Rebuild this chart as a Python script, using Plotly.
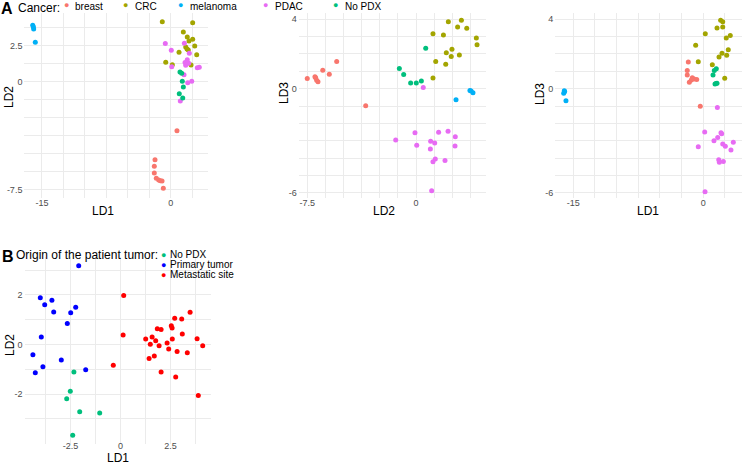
import plotly.graph_objects as go

# ---------------- Panel A data (LD1/LD2/LD3 by cancer type) ----------------
cancers = ["breast", "CRC", "melanoma", "PDAC", "No PDX"]
cancer_colors = ["#F8766D", "#A3A500", "#00B0F6", "#E76BF3", "#00BF7D"]

# A1: LD1 (x) vs LD2 (y)
a1_breast_x = [-1.83, -1.91, -1.91, -1.68, -1.40, -1.21, -1.01, -0.86, 0.73]
a1_breast_y = [-5.43, -5.89, -6.35, -6.72, -6.84, -6.89, -6.91, -7.42, -3.42]
a1_crc_x = [-0.98, 2.56, 1.47, 1.93, 2.56, 2.13, 2.80, 1.75, 2.05, 0.97, 3.03, -0.58, 0.19, 2.37, 1.90]
a1_crc_y = [4.15, 4.08, 3.44, 3.09, 2.93, 2.81, 2.47, 2.40, 2.19, 2.03, 1.86, 1.33, 1.17, 1.15, 2.26]
a1_mel_x = [-16.08, -16.00, -15.97, -15.78]
a1_mel_y = [3.90, 3.78, 3.65, 2.72]
a1_pdac_x = [-0.63, 1.59, 0.07, 2.17, 1.93, 1.67, 2.10, 1.75, 0.12, 1.55, 3.10, 3.33, 2.45, 1.98, 1.12]
a1_pdac_y = [2.63, 2.65, 2.17, 1.96, 1.51, 1.31, 1.26, 1.13, 1.03, 0.47, 0.96, 0.99, 0.01, -0.08, -1.35]
a1_nopdx_x = [1.08, 1.28, 1.35, 1.47, 1.00, 1.40]
a1_nopdx_y = [0.66, 0.57, 0.01, -0.38, -0.85, -1.15]

# A2: LD2 (x) vs LD3 (y)
a2_breast_x = [-7.50, -6.97, -6.92, -6.85, -6.76, -6.43, -5.98, -5.47, -3.47]
a2_breast_y = [0.58, 0.69, 0.62, 0.48, 0.40, 1.06, 0.83, 1.56, -0.98]
a2_crc_x = [2.23, 3.13, 2.87, 3.50, 1.17, 1.89, 4.16, 4.21, 2.48, 2.09, 2.99, 2.43, 1.36, 2.05, 1.17]
a2_crc_y = [3.85, 3.93, 3.54, 3.47, 3.16, 3.08, 2.91, 2.52, 2.27, 2.06, 1.94, 1.85, 1.56, 1.40, 0.61]
a2_mel_x = [3.72, 3.80, 3.93, 2.76]
a2_mel_y = [-0.10, -0.13, -0.23, -0.64]
a2_pdac_x = [-0.07, 1.56, 2.21, 2.71, 1.01, 1.29, 0.05, 2.69, 0.99, 1.33, 1.17, 2.00, 1.08, -1.40, 0.50]
a2_pdac_y = [-2.54, -2.51, -2.45, -2.76, -3.03, -3.12, -3.26, -3.30, -3.47, -4.05, -4.20, -4.14, -5.88, -2.95, 0.06]
a2_nopdx_x = [0.67, -1.15, -0.85, -0.37, 0.02, 0.37]
a2_nopdx_y = [2.33, 1.16, 0.81, 0.32, 0.32, 0.44]

# A3: LD1 (x) vs LD3 (y)
a3_breast_x = [-1.73, -1.85, -1.85, -1.27, -1.07, -1.38, -0.76, -1.61, -0.35]
a3_breast_y = [1.53, 1.05, 0.79, 0.62, 0.56, 0.50, 0.52, 0.37, -1.01]
a3_crc_x = [2.00, 2.24, 2.24, 1.58, 0.23, 3.11, 2.65, -0.88, 2.88, 2.16, 1.81, 2.70, -0.58, 1.04, 2.47]
a3_crc_y = [3.93, 3.85, 3.55, 3.49, 3.16, 3.06, 2.91, 2.50, 2.24, 2.03, 1.82, 1.92, 1.55, 1.37, 0.60]
a3_mel_x = [-16.03, -16.10, -15.84, -15.99]
a3_mel_y = [-0.12, -0.26, -0.70, -0.16]
a3_pdac_x = [0.16, 2.04, 2.12, 1.66, 1.23, 3.46, 2.24, 2.54, -0.58, 3.19, 1.78, 1.85, 2.31, 0.20, 1.62]
a3_pdac_y = [-2.50, -2.54, -2.60, -2.81, -2.99, -3.08, -3.18, -3.31, -3.34, -3.53, -4.09, -4.24, -4.19, -5.93, -1.09]
a3_nopdx_x = [1.50, 1.27, 1.12, 1.35, 1.58, 1.46]
a3_nopdx_y = [1.14, 1.05, 0.79, 0.27, 0.31, 0.29]

# ---------------- Panel B data (origin of the patient tumor) ----------------
origins = ["No PDX", "Primary tumor", "Metastatic site"]
origin_colors = ["#00BF7D", "#0000FF", "#FF0000"]

b_nopdx_x = [-2.33, -2.51, -2.69, -2.04, -1.04, -2.39]
b_nopdx_y = [-1.11, -1.89, -2.19, -2.71, -2.76, -3.66]
b_primary_x = [-2.09, -4.01, -3.79, -3.43, -3.34, -2.24, -2.49, -2.66, -3.96, -4.38, -2.96, -3.88, -4.26, -1.74]
b_primary_y = [3.18, 1.88, 1.60, 1.78, 1.31, 1.50, 1.28, 0.85, 0.30, -0.41, -0.63, -0.90, -1.14, -1.02]
b_meta_x = [0.16, 0.13, -0.36, 3.48, 2.71, 3.06, 2.54, 2.58, 1.84, 2.03, 3.09, 1.58, 1.26, 2.59,
            3.83, 1.76, 2.33, 1.49, 1.93, 4.11, 2.41, 1.69, 1.43, 2.83, 3.34, 2.03, 2.76, 3.89]
b_meta_y = [1.98, 0.38, -0.84, 1.30, 1.06, 1.03, 0.76, 0.67, 0.64, 0.60, 0.42, 0.30, 0.22, 0.22,
            0.23, 0.15, 0.06, 0.01, -0.05, -0.05, -0.18, -0.46, -0.56, -0.28, -0.33, -1.11, -1.31, -2.06]

# Axis tick labels
a1_xticks = [-15, 0]
a1_yticks = [2.5, 0, -7.5]
a2_xticks = [-7.5, 0]
a2_yticks = [4, 0, -6]
a3_xticks = [-15, 0]
a3_yticks = [4, 0, -6]
b_xticks = [-2.5, 0, 2.5]
b_yticks = [2, 0, -2]

# ---------------- Figure ----------------
W, H = 742, 466
FONT = "Liberation Sans, Arial, sans-serif"
fig = go.Figure()

def add_group(xs, ys, color, name, axis):
    fig.add_trace(go.Scatter(
        x=xs, y=ys, mode="markers", name=name, showlegend=False,
        marker=dict(color=color, size=5, line=dict(width=0)),
        xaxis="x" + axis, yaxis="y" + axis))

a1 = [(a1_breast_x, a1_breast_y), (a1_crc_x, a1_crc_y), (a1_mel_x, a1_mel_y),
      (a1_pdac_x, a1_pdac_y), (a1_nopdx_x, a1_nopdx_y)]
a2 = [(a2_breast_x, a2_breast_y), (a2_crc_x, a2_crc_y), (a2_mel_x, a2_mel_y),
      (a2_pdac_x, a2_pdac_y), (a2_nopdx_x, a2_nopdx_y)]
a3 = [(a3_breast_x, a3_breast_y), (a3_crc_x, a3_crc_y), (a3_mel_x, a3_mel_y),
      (a3_pdac_x, a3_pdac_y), (a3_nopdx_x, a3_nopdx_y)]
for panel, ax in [(a1, ""), (a2, "2"), (a3, "3")]:
    for (xs, ys), c, n in zip(panel, cancer_colors, cancers):
        add_group(xs, ys, c, n, ax)
bgroups = [(b_nopdx_x, b_nopdx_y), (b_primary_x, b_primary_y), (b_meta_x, b_meta_y)]
for (xs, ys), c, n in zip(bgroups, origin_colors, origins):
    add_group(xs, ys, c, n, "4")

def px_x(p):
    return p / W

def px_y(p):
    return 1 - p / H

GRID = "#EBEBEB"
TICKFONT = dict(family=FONT, size=9, color="#4D4D4D")

def axis(domain, rng, ticks, minor_dtick, anchor, standoff):
    return dict(domain=domain, range=rng, tickmode="array", tickvals=ticks,
                ticktext=[("%g" % t) for t in ticks],
                showgrid=True, gridcolor=GRID, gridwidth=1, zeroline=False,
                showline=False, ticks="", ticklen=0, tickfont=TICKFONT, anchor=anchor,
                automargin=False, ticklabelstandoff=standoff,
                minor=dict(tickmode="linear", tick0=0, dtick=minor_dtick,
                           showgrid=True, gridcolor=GRID, gridwidth=0.7))

ydomA = [px_y(198), px_y(12.5)]
ydomB = [px_y(443.7), px_y(257.2)]

fig.update_layout(
    template="none",
    width=W, height=H, margin=dict(l=0, r=0, t=0, b=0, pad=0),
    paper_bgcolor="white", plot_bgcolor="white",
    font=dict(family=FONT, color="black"),
    xaxis=axis([px_x(24.4), px_x(207.6)], [-17.05, 4.30], a1_xticks, 2.5, "y", -2),
    yaxis=axis(ydomA, [-8.09, 4.79], a1_yticks, 1.25, "x", 1),
    xaxis2=axis([px_x(298.7), px_x(485.6)], [-8.09, 4.80], a2_xticks, 1.25, "y2", -2),
    yaxis2=axis(ydomA, [-6.29, 4.38], a2_yticks, 1, "x2", 1),
    xaxis3=axis([px_x(555.2), px_x(741.8)], [-17.08, 4.44], a3_xticks, 2.5, "y3", -2),
    yaxis3=axis(ydomA, [-6.29, 4.38], a3_yticks, 1, "x3", 1),
    xaxis4=axis([px_x(24.5), px_x(211.1)], [-4.80, 4.53], b_xticks, 1.25, "y4", -5),
    yaxis4=axis(ydomB, [-4.0, 3.52], b_yticks, 1, "x4", 1),
)

ann = []

def text(x, y, s, size, xanchor="center", yanchor="middle", angle=0, color="black"):
    ann.append(dict(x=px_x(x), y=px_y(y), xref="paper", yref="paper", text=s,
                    showarrow=False, xanchor=xanchor, yanchor=yanchor, textangle=angle,
                    borderpad=0, font=dict(family=FONT, size=size, color=color)))

# Panel letters
text(0, 8.5, "<b>A</b>", 16, xanchor="left")
text(0.5, 256, "<b>B</b>", 16, xanchor="left")

# Legend A (horizontal)
text(17, 0, "Cancer:", 12, xanchor="left", yanchor="top")
legA_dot_x = [66, 126, 180.5, 265.5, 335.5]
for lx, c, n in zip(legA_dot_x, cancer_colors, cancers):
    text(lx, 5, "●", 9, color=c)
    text(lx + 8, 0, n, 10, xanchor="left", yanchor="top")

# Legend B (vertical)
text(15, 255, "Origin of the patient tumor:", 12, xanchor="left")
legB_dot_y = [254.5, 264.7, 274.8]
for ly, c, n in zip(legB_dot_y, origin_colors, origins):
    text(163.3, ly, "●", 9, color=c)
    text(169, ly, n, 10, xanchor="left")

# Axis titles
text(103, 211, "LD1", 12)
text(9, 97, "LD2", 12, angle=-90)
text(384, 211, "LD2", 12)
text(284, 93, "LD3", 12, angle=-90)
text(648, 211, "LD1", 12)
text(540, 94, "LD3", 12, angle=-90)
text(118, 466, "LD1", 12, yanchor="bottom")
text(10, 345, "LD2", 12, angle=-90)

fig.update_layout(annotations=ann)
fig.write_html("out.html", config={"displayModeBar": False},
               post_script="document.body.style.margin='0';document.body.style.padding='0';")
